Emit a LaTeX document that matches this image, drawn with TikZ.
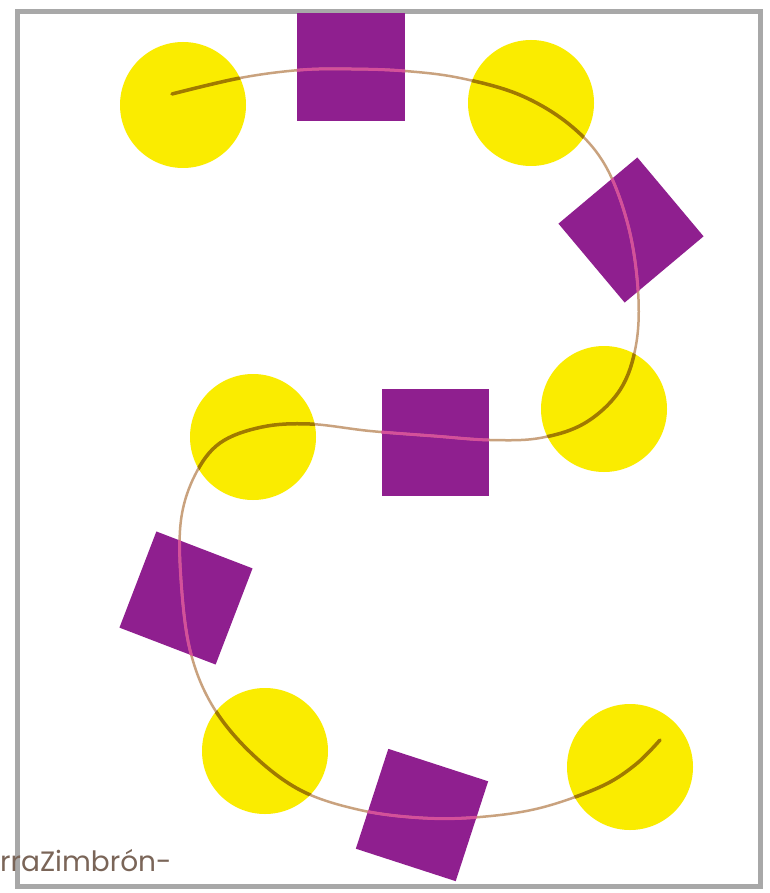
\documentclass[tikz,border=0pt]{standalone}
\usepackage{fontspec}
\newfontfamily\capfont{Poppins}
\definecolor{sunyellow}{HTML}{FAEC00}
\definecolor{plum}{HTML}{8F1F8F}
\definecolor{tanline}{HTML}{C9A27E}
\definecolor{goldline}{HTML}{A07A00}
\definecolor{pinkline}{HTML}{D4509A}
\definecolor{framegray}{HTML}{A8A8A8}
\definecolor{captext}{HTML}{7A6558}
\begin{document}
\begin{tikzpicture}[x=1pt,y=-1pt,
  bead/.style={circle,fill=sunyellow,draw=none,minimum size=126pt,inner sep=0pt},
  tile/.style={rectangle,fill=plum,draw=none,minimum size=#1,inner sep=0pt},
  tile/.default=106pt,
  snake/.style={insert path={plot[smooth,tension=0.6] coordinates {
    (172,94) (240,78) (300,70) (351,69) (405,71) (460,78) (520,95)
    (570,125) (605,165) (628,225) (638,290) (636,345) (620,390) (585,423)
    (540,438) (490,440) (434,436) (370,431) (310,424) (262,427) (220,443)
    (195,475) (181,520) (181,580) (190,650) (212,705) (250,752) (300,790)
    (360,810) (423,818) (480,817) (540,808) (600,787) (635,765) (660,740)}}},
  pinkthread/.style={pinkline,line width=3pt,snake}
  ]
\useasboundingbox (0,0) rectangle (769,893);
\fill[white] (0,0) rectangle (769,893);
% frame
\draw[framegray,line width=5pt] (17,12) rectangle (760,886);
% beads
\node[bead] (c1) at (183,105) {};
\node[bead] (c2) at (531,103) {};
\node[bead] (c3) at (604,409) {};
\node[bead] (c4) at (253,437) {};
\node[bead] (c5) at (265,751) {};
\node[bead] (c6) at (630,767) {};
% tiles
\node[tile=108pt] (s1) at (351,67) {};
\node[tile=103pt,rotate=40] (s2) at (631,230) {};
\node[tile=107pt] (s3) at (435,442) {};
\node[tile=103pt,rotate=-21] (s4) at (186,598) {};
\node[tile=105pt,rotate=-18] (s5) at (422,815) {};
% thread
\draw[tanline,line width=2.5pt,line cap=round,snake];
\begin{scope}
  \clip (c1.center) circle[radius=63pt] (c2.center) circle[radius=63pt]
        (c3.center) circle[radius=63pt] (c4.center) circle[radius=63pt]
        (c5.center) circle[radius=63pt] (c6.center) circle[radius=63pt];
  \draw[goldline,line width=3.5pt,line cap=round,snake];
\end{scope}
\foreach \s in {s1,s2,s3,s4,s5}{
  \begin{scope}
    \clip (\s.north west) -- (\s.north east) -- (\s.south east) -- (\s.south west) -- cycle;
    \draw[pinkthread];
  \end{scope}
}
% caption
\node[anchor=base west,inner sep=0pt,text=captext,font=\capfont\fontsize{28}{32}\selectfont] (cap) at (0,871) {rraZimbrón-};
\end{tikzpicture}
\end{document}
